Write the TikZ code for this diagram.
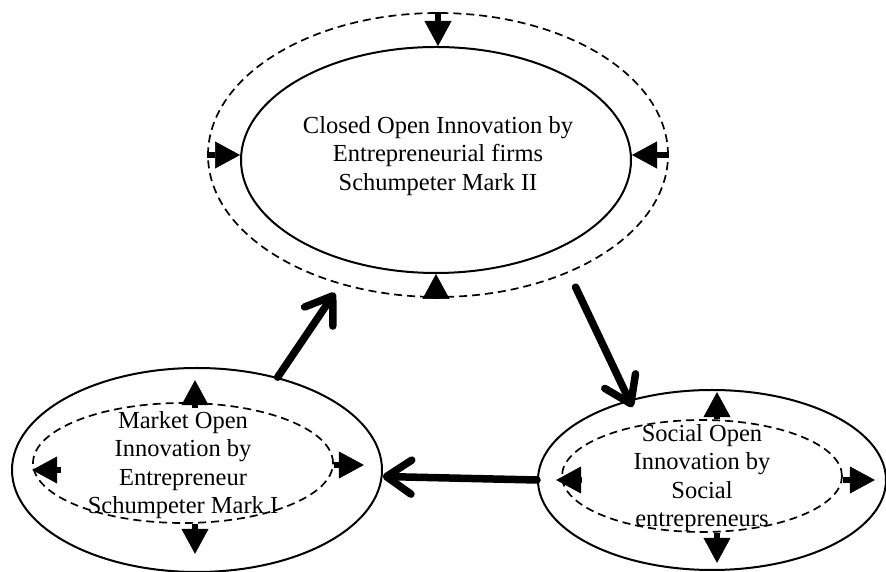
\documentclass[tikz,border=0pt]{standalone}
\usepackage{fontspec}
\setmainfont{Liberation Serif}
\usetikzlibrary{shapes.geometric,arrows.meta}
\begin{document}
\begin{tikzpicture}[x=1pt,y=1pt,
  ring/.style={ellipse,draw,line width=2pt,inner sep=0pt},
  halo/.style={ellipse,draw,line width=1.7pt,dash pattern=on 8pt off 5pt,inner sep=0pt},
  blurb/.style={align=center,font=\fontsize{24.5}{28.5}\selectfont},
  spoke/.style={line width=6pt,-{Triangle[length=25pt,width=27pt,line width=0.5pt]}},
  flow/.style={line width=7.5pt,line cap=round,-{Straight Barb[length=25pt,width=34pt,round]}}]
  \useasboundingbox (0,0) rectangle (886,572);
  % Schumpeter Mark II
  \node[halo,minimum width=460pt,minimum height=284pt] (tO) at (438,417) {};
  \node[ring,minimum width=390pt,minimum height=226pt] (tI) at (436,412) {};
  \node[blurb] (tT) at (438,416) {Closed Open Innovation by\\Entrepreneurial firms\\Schumpeter Mark II};
  \draw[spoke] (tO.north) -- (tO.north |- tI.north);
  \draw[spoke] (tO.west) -- (tI.west |- tO.west);
  \draw[spoke] (tO.east) -- (tI.east |- tO.east);
  \draw[spoke] (tI.south |- tO.south) -- (tI.south);
  % Schumpeter Mark I
  \node[ring,minimum width=370pt,minimum height=204pt] (mO) at (197,102) {};
  \node[halo,minimum width=300pt,minimum height=120pt] (mI) at (183,109) {};
  \node[blurb] (mT) at (183,107) {Market Open\\Innovation by\\Entrepreneur\\Schumpeter Mark I};
  \draw[spoke] ([xshift=12pt,yshift=-6pt]mI.north) -- ++(0,28);
  \draw[spoke] ([xshift=12pt]mI.south) -- ++(0,-30);
  \draw[spoke] ([xshift=29pt,yshift=-7pt]mI.west) -- ([yshift=-7pt]mI.west);
  \draw[spoke] ([yshift=-2pt]mI.east) -- ([xshift=30pt,yshift=-2pt]mI.east);
  % social entrepreneurs
  \node[ring,minimum width=348pt,minimum height=180pt] (sO) at (712,92) {};
  \node[halo,minimum width=280pt,minimum height=112pt] (sI) at (702,96) {};
  \node[blurb] (sT) at (702,94) {Social Open\\Innovation by\\Social\\entrepreneurs};
  \draw[spoke] ([xshift=15pt]sI.north) -- ++(0,27);
  \draw[spoke] ([xshift=15pt]sI.south) -- ++(0,-30);
  \draw[spoke] ([xshift=20pt,yshift=-4pt]sI.west) -- ([xshift=-5pt,yshift=-4pt]sI.west);
  \draw[spoke] ([yshift=-4pt]sI.east) -- ([xshift=32pt,yshift=-4pt]sI.east);
  % cycle
  \draw[flow,shorten >=10pt] (mO.49) -- (tO.233);
  \draw[flow,shorten <=16pt,shorten >=-8pt] (tO.-42) -- (sO.136);
  \draw[flow] (sO.west) -- (mO.-2);
\end{tikzpicture}
\end{document}
